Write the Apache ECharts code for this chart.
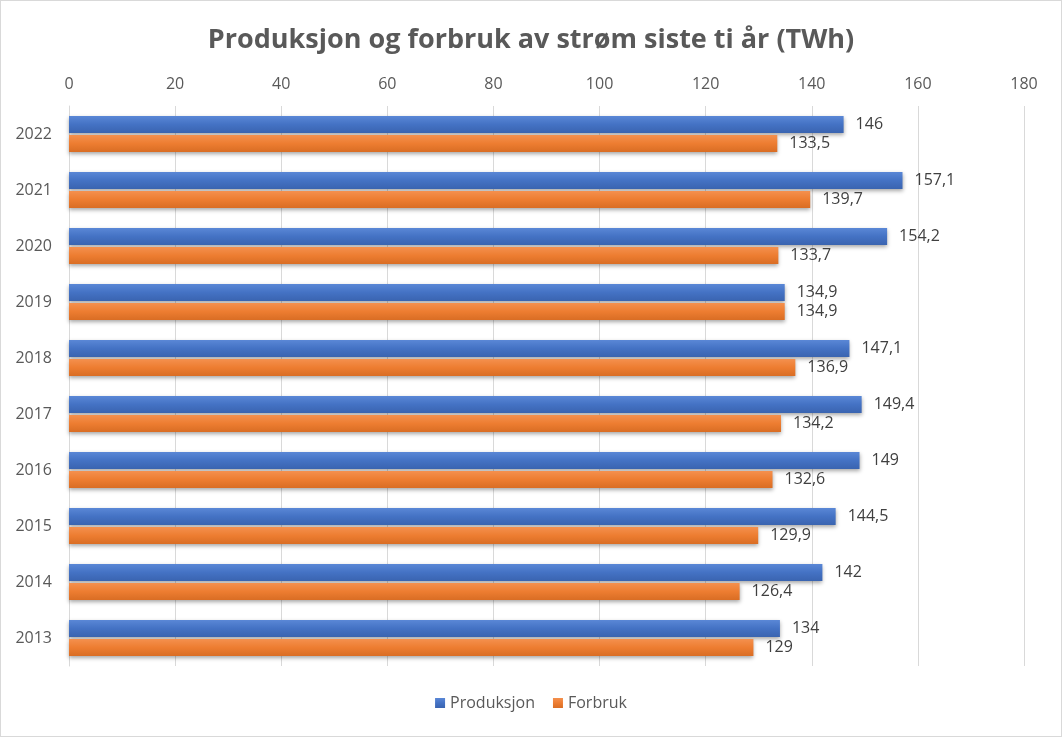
<!DOCTYPE html>
<html>
<head>
<meta charset="utf-8">
<script src="https://cdn.jsdelivr.net/npm/echarts@6/dist/echarts.min.js"></script>
<style>
html,body{margin:0;padding:0;background:#fff;}
#chart{width:1062px;height:737px;box-sizing:border-box;border:1px solid #d9d9d9;}
</style>
</head>
<body>
<div id="chart"></div>
<script>
const years = ['2022','2021','2020','2019','2018','2017','2016','2015','2014','2013'];
const produksjon = [146, 157.1, 154.2, 134.9, 147.1, 149.4, 149, 144.5, 142, 134];
const forbruk = [133.5, 139.7, 133.7, 134.9, 136.9, 134.2, 132.6, 129.9, 126.4, 129];
const seriesNames = ['Produksjon', 'Forbruk'];
const titleText = 'Produksjon og forbruk av strøm siste ti år (TWh)';

const fontFam = 'Open Sans, Noto Sans, sans-serif';
function grad(top, mid, bot){
  return new echarts.graphic.LinearGradient(0,0,0,1,[
    {offset:0,color:top},{offset:0.5,color:mid},{offset:1,color:bot}
  ]);
}
const chart = echarts.init(document.getElementById('chart'), null, {renderer:'canvas'});
const labelFmt = p => String(p.value).replace('.', ',');
chart.setOption({
  animation:false,
  title:{
    text:titleText, left:'center', top:21,
    textStyle:{fontFamily:fontFam, fontSize:27, fontWeight:'bold', color:'#595959'}
  },
  legend:{
    data:seriesNames, bottom:20, left:'center', icon:'rect', itemWidth:10, itemHeight:10, itemGap:18,
    textStyle:{fontFamily:fontFam, fontSize:16, color:'#595959'}
  },
  grid:{left:68, right:37, top:105, bottom:70, containLabel:false},
  xAxis:{
    type:'value', position:'top', min:0, max:180, interval:20,
    axisLine:{show:false}, axisTick:{show:false},
    axisLabel:{fontFamily:fontFam, fontSize:16, color:'#595959', margin:14},
    splitLine:{show:true, lineStyle:{color:'#d9d9d9', width:1}}
  },
  yAxis:{
    type:'category', data:years, inverse:true,
    axisLine:{show:true, lineStyle:{color:'#d9d9d9'}}, axisTick:{show:false},
    axisLabel:{fontFamily:fontFam, fontSize:16, color:'#595959', margin:17}
  },
  series:[
    {name:seriesNames[0], type:'bar', data:produksjon, barWidth:17, barGap:'12%',
     itemStyle:{color:grad('#5a87d6','#4472C4','#3a64b0'), shadowColor:'rgba(0,0,0,0.35)', shadowBlur:4, shadowOffsetY:2},
     label:{show:true, position:'right', distance:12, formatter:labelFmt, fontFamily:fontFam, fontSize:16, color:'#404040'}},
    {name:seriesNames[1], type:'bar', data:forbruk, barWidth:17,
     itemStyle:{color:grad('#f4904e','#ED7D31','#d96d24'), shadowColor:'rgba(0,0,0,0.35)', shadowBlur:4, shadowOffsetY:2},
     label:{show:true, position:'right', distance:12, formatter:labelFmt, fontFamily:fontFam, fontSize:16, color:'#404040'}}
  ]
});
</script>
</body>
</html>
